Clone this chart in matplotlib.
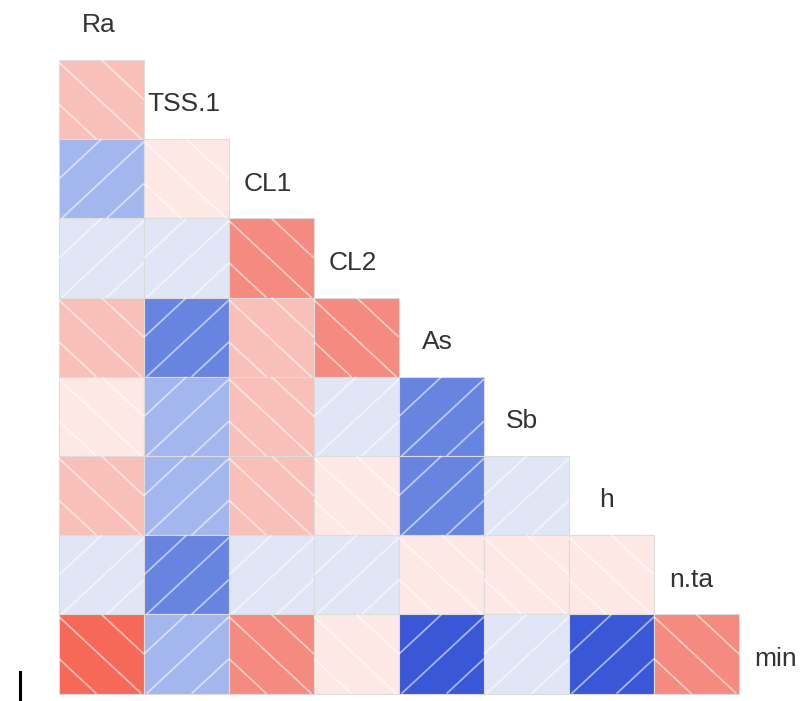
import numpy as np
import matplotlib
matplotlib.use("Agg")
import matplotlib.pyplot as plt
from matplotlib.colors import LinearSegmentedColormap
from matplotlib.patches import Rectangle
from matplotlib.lines import Line2D

# variable names on the diagonal
variables = ["Ra", "TSS.1", "CL1", "CL2", "As", "Sb", "h", "n.ta", "min"]

# lower triangle correlations (row i+1 vs columns 0..i), read from the shading
corr_rows = [
    [-0.35],
    [0.35, -0.10],
    [0.10, 0.10, -0.60],
    [-0.35, 0.60, -0.35, -0.60],
    [-0.10, 0.35, -0.35, 0.10, 0.60],
    [-0.35, 0.35, -0.35, -0.10, 0.60, 0.10],
    [0.10, 0.60, 0.10, 0.10, -0.10, -0.10, -0.10],
    [-0.80, 0.35, -0.60, -0.10, 0.80, 0.10, 0.80, -0.60],
]

# shading palette: negative red, positive blue
anchors = [(-1.0, "#e83a28"), (-0.8, "#f66a5a"), (-0.6, "#f58a80"),
           (-0.35, "#f8c0b8"), (-0.1, "#fde8e6"), (0.0, "#ffffff"),
           (0.1, "#dfe6f6"), (0.35, "#a4b6ee"), (0.6, "#6684e0"),
           (0.8, "#3a58d8"), (1.0, "#1a2f9c")]
cmap = LinearSegmentedColormap.from_list(
    "shade", [((v + 1) / 2, c) for v, c in anchors])

plt.rcParams['font.family'] = ['Liberation Sans', 'DejaVu Sans']

fig = plt.figure(figsize=(8, 7.01), dpi=100)
ax = fig.add_axes([0, 0, 1, 1])
ax.set_xlim(-59 / 85, 741 / 85)
ax.set_ylim((701 + 19.2) / 79.2, 19.2 / 79.2)
ax.axis("off")

offsets = [-0.5, 0.03, 0.56]

def hatch_cell(c, r, positive):
    for d in offsets:
        u0, u1 = max(0, -d), min(1, 1 - d)
        if u1 <= u0:
            continue
        us = np.array([u0, u1])
        vs = us + d
        if positive:
            xs = c + 1 - us
        else:
            xs = c + us
        ax.plot(xs, r + vs, color="white", alpha=0.55, lw=1.3,
                solid_capstyle="butt", zorder=3)

for i, row in enumerate(corr_rows):
    r = i + 1
    for c, val in enumerate(row):
        ax.add_patch(Rectangle((c, r), 1, 1, facecolor=cmap((val + 1) / 2),
                               edgecolor="#dcdcdc", lw=0.8, zorder=2))
        hatch_cell(c, r, val > 0)

for i, name in enumerate(variables):
    ax.text(i + 0.47 - 0.005 * i, i + 0.56, name, ha="center", va="center",
            fontsize=19, color="#333333")

# stray mark at bottom left of the original
fig.add_artist(Line2D([20 / 800, 20 / 800], [0, 29 / 701],
                      transform=fig.transFigure, color="black", lw=2.2))

fig.savefig("out.png", dpi=100)
